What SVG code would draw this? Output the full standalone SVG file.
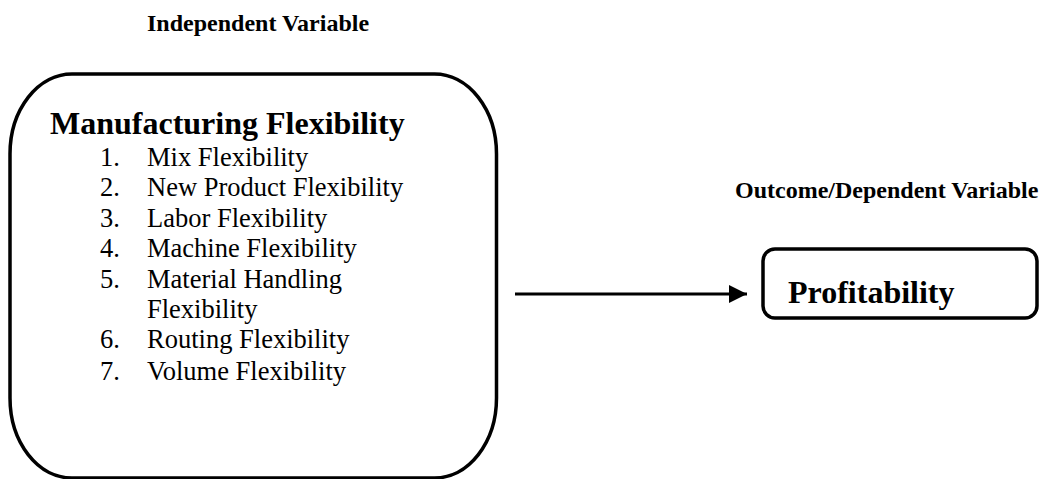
<svg xmlns="http://www.w3.org/2000/svg" width="1043" height="479" viewBox="0 0 1043 479">
<style>
text{font-family:"Liberation Serif","Times New Roman",serif;fill:#000}
.lbl{font-size:24px;font-weight:bold}
.head{font-size:32px;font-weight:bold}
.item{font-size:26.5px}
.box{fill:#fff;stroke:#000;stroke-width:3.5}
.conn{stroke:#000;stroke-width:3;fill:none}
</style>
<defs>
<marker id="arr" viewBox="0 0 10 10" refX="10" refY="5" markerWidth="6" markerHeight="6" markerUnits="strokeWidth" orient="auto">
<path d="M0,0 L10,5 L0,10 z" fill="#000"/>
</marker>
</defs>
<g id="label-independent">
<text class="lbl" x="147" y="31">Independent Variable</text>
</g>
<g id="label-dependent">
<text class="lbl" x="735" y="198">Outcome/Dependent Variable</text>
</g>
<g id="node-manufacturing">
<rect class="box" x="10" y="74" width="486.5" height="404" rx="62" ry="80"/>
<text class="head" x="50" y="134">Manufacturing Flexibility</text>
<text class="item" x="100" y="166">1.</text><text class="item" x="147" y="166">Mix Flexibility</text>
<text class="item" x="100" y="196">2.</text><text class="item" x="147" y="196">New Product Flexibility</text>
<text class="item" x="100" y="227">3.</text><text class="item" x="147" y="227">Labor Flexibility</text>
<text class="item" x="100" y="257">4.</text><text class="item" x="147" y="257">Machine Flexibility</text>
<text class="item" x="100" y="288">5.</text><text class="item" x="147" y="288">Material Handling</text>
<text class="item" x="147" y="318">Flexibility</text>
<text class="item" x="100" y="348">6.</text><text class="item" x="147" y="348">Routing Flexibility</text>
<text class="item" x="100" y="380">7.</text><text class="item" x="147" y="380">Volume Flexibility</text>
</g>
<g id="node-profitability">
<rect class="box" x="763" y="249" width="274" height="69" rx="12" ry="12"/>
<text class="head" x="788" y="303">Profitability</text>
</g>
<g id="connectors">
<line class="conn" x1="515" y1="294" x2="747" y2="294" marker-end="url(#arr)"/>
</g>
</svg>
